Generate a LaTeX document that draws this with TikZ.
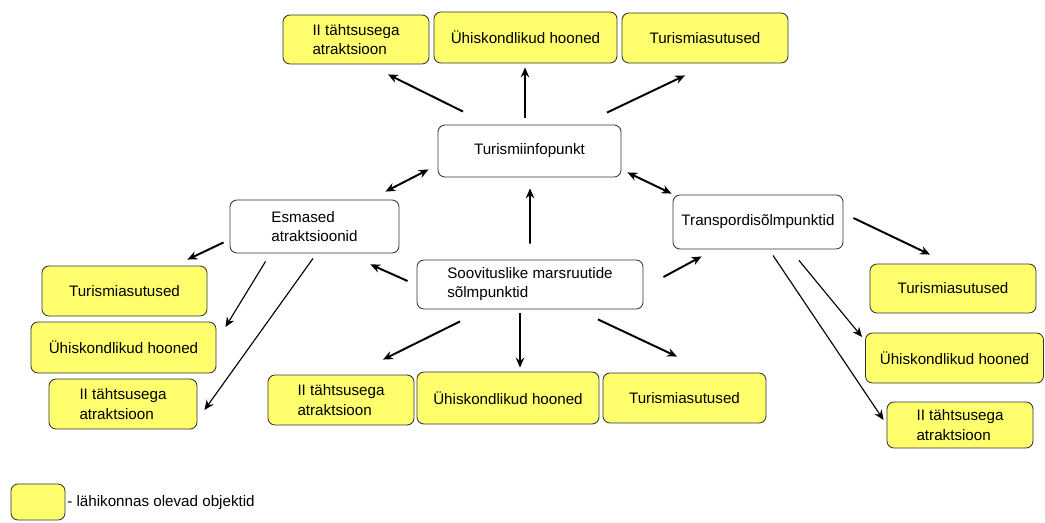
\documentclass[tikz,border=0pt]{standalone}
\usepackage{fontspec}
\setmainfont{Liberation Sans}
\usetikzlibrary{arrows.meta}
\definecolor{objyellow}{RGB}{255,255,110}
\tikzset{
  box/.style={draw=black!80, line width=.6pt, rounded corners=5pt, align=left, inner sep=0pt},
  obj/.style={box, fill=objyellow},
  arr/.style={->, line width=1.4pt},
  thinarr/.style={->, line width=.8pt}
}
\begin{document}
\begin{tikzpicture}[x=0.025cm, y=-0.025cm, font=\fontsize{10.8}{13.6}\selectfont, >={Stealth[length=7pt,width=6pt]}]
		\useasboundingbox (0,0) rectangle (1045,522);
		% keskmine rida
		\node[box, minimum width=4.575cm, minimum height=1.3cm] (info) at (529.5,151) {Turismiinfopunkt};
		\node[box, minimum width=4.225cm, minimum height=1.325cm] (esm) at (314.5,226.5) {Esmased\\atraktsioonid};
		\node[box, minimum width=4.25cm, minimum height=1.35cm] (trans) at (758,222) {Transpordisõlmpunktid};
		\node[box, minimum width=5.65cm, minimum height=1.225cm] (soov) at (530,284.5) {Soovituslike marsruutide\\sõlmpunktid};
		% ülemine rida
		\node[obj, minimum width=3.65cm, minimum height=1.225cm] (ii1) at (356,39.5) {II tähtsusega\\atraktsioon};
		\node[obj, minimum width=4.575cm, minimum height=1.275cm] (uh1) at (525.5,37.5) {Ühiskondlikud hooned};
		\node[obj, minimum width=4.15cm, minimum height=1.25cm] (tu1) at (705,38) {Turismiasutused};
		% vasak
		\node[obj, minimum width=4.125cm, minimum height=1.25cm] (tu2) at (124.5,291) {Turismiasutused};
		\node[obj, minimum width=4.625cm, minimum height=1.275cm] (uh2) at (123.5,347.5) {Ühiskondlikud hooned};
		\node[obj, minimum width=3.7cm, minimum height=1.25cm] (ii2) at (123,404) {II tähtsusega\\atraktsioon};
		% alumine rida
		\node[obj, minimum width=3.65cm, minimum height=1.25cm] (ii3) at (341,400) {II tähtsusega\\atraktsioon};
		\node[obj, minimum width=4.55cm, minimum height=1.3cm] (uh3) at (508,398) {Ühiskondlikud hooned};
		\node[obj, minimum width=4.075cm, minimum height=1.25cm] (tu3) at (684.5,398) {Turismiasutused};
		% parem
		\node[obj, minimum width=4.15cm, minimum height=1.225cm] (tu4) at (953,288.5) {Turismiasutused};
		\node[obj, minimum width=4.45cm, minimum height=1.25cm] (uh4) at (954.5,358) {Ühiskondlikud hooned};
		\node[obj, minimum width=3.65cm, minimum height=1.15cm] (ii4) at (960,425) {II tähtsusega\\atraktsioon};
		% legend
		\node[obj, minimum width=1.35cm, minimum height=.9cm] (leg) at (38,502) {};
		\node[anchor=west, inner sep=0pt] (legtext) at (67,503) {- lähikonnas olevad objektid};
		% nooled
		\draw[arr] ([shift={(-66.5,-13)}]info.north) -- ([shift={(32,10)}]ii1.south);
		\draw[arr] ([shift={(-4.5,-7)}]info.north) -- ([shift={(-0.5,4)}]uh1.south);
		\draw[arr] ([shift={(77.5,-12)}]info.north) -- ([shift={(-20,12)}]tu1.south);
		\draw[arr, <->] ([shift={(-14,-8)}]esm.north east) -- ([shift={(-9,-8)}]info.south west);
		\draw[arr, <->] ([shift={(6,-5)}]info.south east) -- ([shift={(-1,-1)}]trans.north west);
		\draw[arr] ([shift={(0,-16)}]soov.north) -- ([shift={(0.5,11)}]info.south);
		\draw[arr] ([shift={(-6,-11)}]esm.south west) -- ([shift={(-20,-6)}]tu2.north east);
		\draw[thinarr] ([shift={(36,8)}]esm.south west) -- ([shift={(9,-20.5)}]uh2.east);
		\draw[thinarr] ([shift={(-1.5,5)}]esm.south) -- ([shift={(7,6)}]ii2.east);
		\draw[arr] ([shift={(-9,-3.5)}]soov.west) -- ([shift={(-29,11)}]esm.south east);
		\draw[arr] ([shift={(-70,12)}]soov.south) -- ([shift={(42,-15)}]ii3.north);
		\draw[arr] ([shift={(-10,4)}]soov.south) -- ([shift={(12,-4)}]uh3.north);
		\draw[arr] ([shift={(68,10)}]soov.south) -- ([shift={(-7.5,-16)}]tu3.north);
		\draw[arr] ([shift={(20,-7.5)}]soov.east) -- ([shift={(29,7)}]trans.south west);
		\draw[arr] ([shift={(10,-4)}]trans.east) -- ([shift={(-23,-9)}]tu4.north);
		\draw[thinarr] ([shift={(41,11)}]trans.south) -- ([shift={(-3,-21)}]uh4.west);
		\draw[thinarr] ([shift={(15,6)}]trans.south) -- ([shift={(-3,-5)}]ii4.west);
\end{tikzpicture}
\end{document}
